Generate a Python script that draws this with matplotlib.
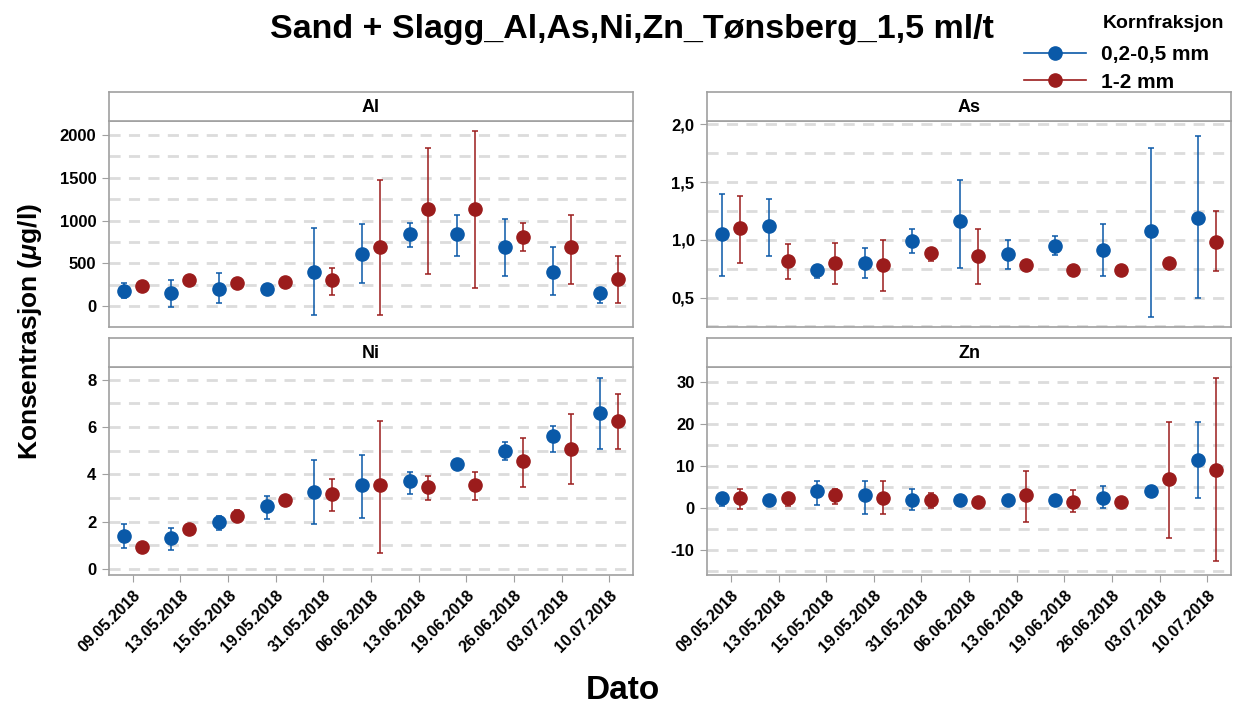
import matplotlib
matplotlib.use("Agg")
import matplotlib.pyplot as plt
import numpy as np

plt.rcParams["font.family"] = ["Liberation Sans", "DejaVu Sans"]
plt.rcParams["mathtext.fontset"] = "custom"
plt.rcParams["mathtext.it"] = "Liberation Sans:italic:bold"
plt.rcParams["mathtext.rm"] = "Liberation Sans:bold"

dates = ["09.05.2018", "13.05.2018", "15.05.2018", "19.05.2018", "31.05.2018",
         "06.06.2018", "13.06.2018", "19.06.2018", "26.06.2018", "03.07.2018",
         "10.07.2018"]
series_names = ["0,2-0,5 mm", "1-2 mm"]

# mean, lower, upper for each date (blue = 0,2-0,5 mm, red = 1-2 mm)
al_blue = [180, 150, 200, 200, 400, 610, 840, 840, 690, 400, 150]
al_blue_lo = [90, -10, 30, 160, -100, 270, 690, 580, 350, 130, 30]
al_blue_hi = [270, 310, 390, 240, 910, 960, 970, 1070, 1020, 690, 200]
al_red = [230, 300, 275, 280, 300, 690, 1130, 1130, 810, 690, 320]
al_red_lo = [190, 260, 230, 230, 130, -100, 380, 210, 640, 260, 30]
al_red_hi = [270, 340, 320, 330, 440, 1480, 1850, 2050, 970, 1070, 580]

as_blue = [1.05, 1.12, 0.74, 0.80, 0.99, 1.16, 0.88, 0.95, 0.91, 1.08, 1.19]
as_blue_lo = [0.69, 0.86, 0.67, 0.67, 0.89, 0.76, 0.75, 0.87, 0.69, 0.33, 0.50]
as_blue_hi = [1.40, 1.35, 0.78, 0.93, 1.09, 1.52, 1.00, 1.03, 1.14, 1.80, 1.90]
as_red = [1.10, 0.82, 0.80, 0.78, 0.89, 0.86, 0.78, 0.74, 0.74, 0.80, 0.98]
as_red_lo = [0.80, 0.66, 0.62, 0.56, 0.82, 0.62, 0.76, 0.72, 0.72, 0.78, 0.73]
as_red_hi = [1.38, 0.96, 0.97, 1.00, 0.93, 1.09, 0.80, 0.76, 0.76, 0.82, 1.25]

ni_blue = [1.4, 1.3, 2.0, 2.65, 3.25, 3.55, 3.7, 4.45, 5.0, 5.6, 6.6]
ni_blue_lo = [0.9, 0.8, 1.65, 2.1, 1.9, 2.15, 3.15, 4.35, 4.6, 4.95, 5.05]
ni_blue_hi = [1.9, 1.75, 2.25, 3.1, 4.6, 4.8, 4.1, 4.55, 5.35, 6.05, 8.05]
ni_red = [0.95, 1.7, 2.25, 2.9, 3.15, 3.55, 3.45, 3.55, 4.55, 5.05, 6.25]
ni_red_lo = [0.85, 1.6, 2.1, 2.8, 2.45, 0.7, 2.9, 2.9, 3.45, 3.6, 5.05]
ni_red_hi = [1.1, 1.8, 2.5, 3.0, 3.8, 6.25, 3.95, 4.1, 5.55, 6.55, 7.4]

zn_blue = [2.5, 2.0, 4.0, 3.0, 2.0, 2.0, 2.0, 2.0, 2.5, 4.0, 11.5]
zn_blue_lo = [0.5, 1.5, 0.8, -1.5, -0.5, 1.5, 1.5, 1.5, 0.0, 3.5, 2.5]
zn_blue_hi = [3.5, 2.5, 6.5, 6.5, 4.5, 2.5, 2.5, 2.5, 5.2, 4.5, 20.5]
zn_red = [2.5, 2.5, 3.0, 2.5, 2.0, 1.5, 3.0, 1.5, 1.5, 7.0, 9.0]
zn_red_lo = [-0.2, 0.5, 1.0, -1.5, 0.0, 1.0, -3.2, -1.0, 1.0, -7.0, -12.5]
zn_red_hi = [4.5, 3.5, 4.5, 6.5, 3.5, 2.0, 8.8, 4.2, 2.0, 20.5, 31.0]

blue = "#0A59A8"
red = "#9B1C1C"
edge = "#A0A0A0"


def fmt_int(v):
    return f"{v + 0.0:.0f}".replace("-0", "0") if abs(v) < 1e-9 else f"{v:.0f}"


def fmt_comma(v):
    return f"{v:.1f}".replace(".", ",")


panels = [
    ("Al", al_blue, al_blue_lo, al_blue_hi, al_red, al_red_lo, al_red_hi,
     (-245, 2165), 500, 250, fmt_int),
    ("As", as_blue, as_blue_lo, as_blue_hi, as_red, as_red_lo, as_red_hi,
     (0.245, 2.03), 0.5, 0.25, fmt_comma),
    ("Ni", ni_blue, ni_blue_lo, ni_blue_hi, ni_red, ni_red_lo, ni_red_hi,
     (-0.25, 8.53), 2, 1, fmt_int),
    ("Zn", zn_blue, zn_blue_lo, zn_blue_hi, zn_red, zn_red_lo, zn_red_hi,
     (-15.9, 33.5), 10, 5, fmt_int),
]

fig = plt.figure(figsize=(12.34, 7.13), dpi=100)

lefts = [0.0883, 0.573]
width = 0.4247
rows = [(0.5414, 0.2889), (0.1935, 0.2917)]
strip_h = 0.041

x = np.arange(len(dates))
off = 0.19

for i, (name, b, blo, bhi, r, rlo, rhi, ylim, major, minor, fmt) in enumerate(panels):
    row, col = divmod(i, 2)
    bottom, h = rows[row]
    ax = fig.add_axes([lefts[col], bottom, width, h])
    sax = fig.add_axes([lefts[col], bottom + h, width, strip_h])

    # dashed grid lines
    grid_vals = np.arange(np.ceil(ylim[0] / minor) * minor, ylim[1], minor)
    for g in grid_vals:
        ax.axhline(g, color="#DCDCDC", lw=2, ls=(0, (4, 3)), zorder=0)

    for vals, lo, hi, c, dx in [(b, blo, bhi, blue, -off), (r, rlo, rhi, red, off)]:
        vals = np.array(vals)
        err = [vals - np.array(lo), np.array(hi) - vals]
        ax.errorbar(x + dx, vals, yerr=err, fmt="o", color=c, ms=9.5,
                    elinewidth=1.1, capsize=2.2, capthick=1.1, zorder=3)

    ax.set_xlim(-0.5, len(dates) - 0.5)
    ax.set_ylim(*ylim)
    ticks = np.arange(np.ceil(ylim[0] / major) * major, ylim[1], major) + 0.0
    ax.set_yticks(ticks)
    ax.set_yticklabels([fmt(t) for t in ticks], fontsize=12, fontweight="bold")
    ax.tick_params(axis="y", length=5, color=edge, pad=4)
    if row == 1:
        ax.set_xticks(x)
        ax.set_xticklabels(dates, rotation=45, ha="right", rotation_mode="anchor",
                           fontsize=11.5, fontweight="bold")
        ax.tick_params(axis="x", length=5, color=edge, pad=4)
    else:
        ax.set_xticks([])
    for s in ax.spines.values():
        s.set_color(edge)
        s.set_linewidth(1.2)

    sax.set_xticks([])
    sax.set_yticks([])
    for s in sax.spines.values():
        s.set_color(edge)
        s.set_linewidth(1.2)
    sax.text(0.5, 0.45, name, ha="center", va="center", fontsize=13,
             fontweight="bold", transform=sax.transAxes)

fig.text(0.512, 0.958, "Sand + Slagg_Al,As,Ni,Zn_Tønsberg_1,5 ml/t",
         ha="center", va="center", fontsize=24.5, fontweight="bold")
fig.text(0.505, 0.032, "Dato", ha="center", va="center", fontsize=24,
         fontweight="bold")
fig.text(0.024, 0.535, "Konsentrasjon ($\\mu$g/l)", ha="center", va="center",
         rotation=90, fontsize=19, fontweight="bold")

# legend
fig.text(0.894, 0.967, "Kornfraksjon", ha="left", va="center", fontsize=14,
         fontweight="bold")
handles = [plt.Line2D([], [], color=blue, marker="o", ms=9.5, lw=1.2),
           plt.Line2D([], [], color=red, marker="o", ms=9.5, lw=1.2)]
leg = fig.legend(handles, series_names, loc="upper left",
                 bbox_to_anchor=(0.823, 0.948), frameon=False,
                 prop={"size": 15, "weight": "bold"}, handlelength=3.0,
                 handletextpad=0.7, labelspacing=0.4, borderaxespad=0.0)

fig.savefig("out.png", dpi=100)
